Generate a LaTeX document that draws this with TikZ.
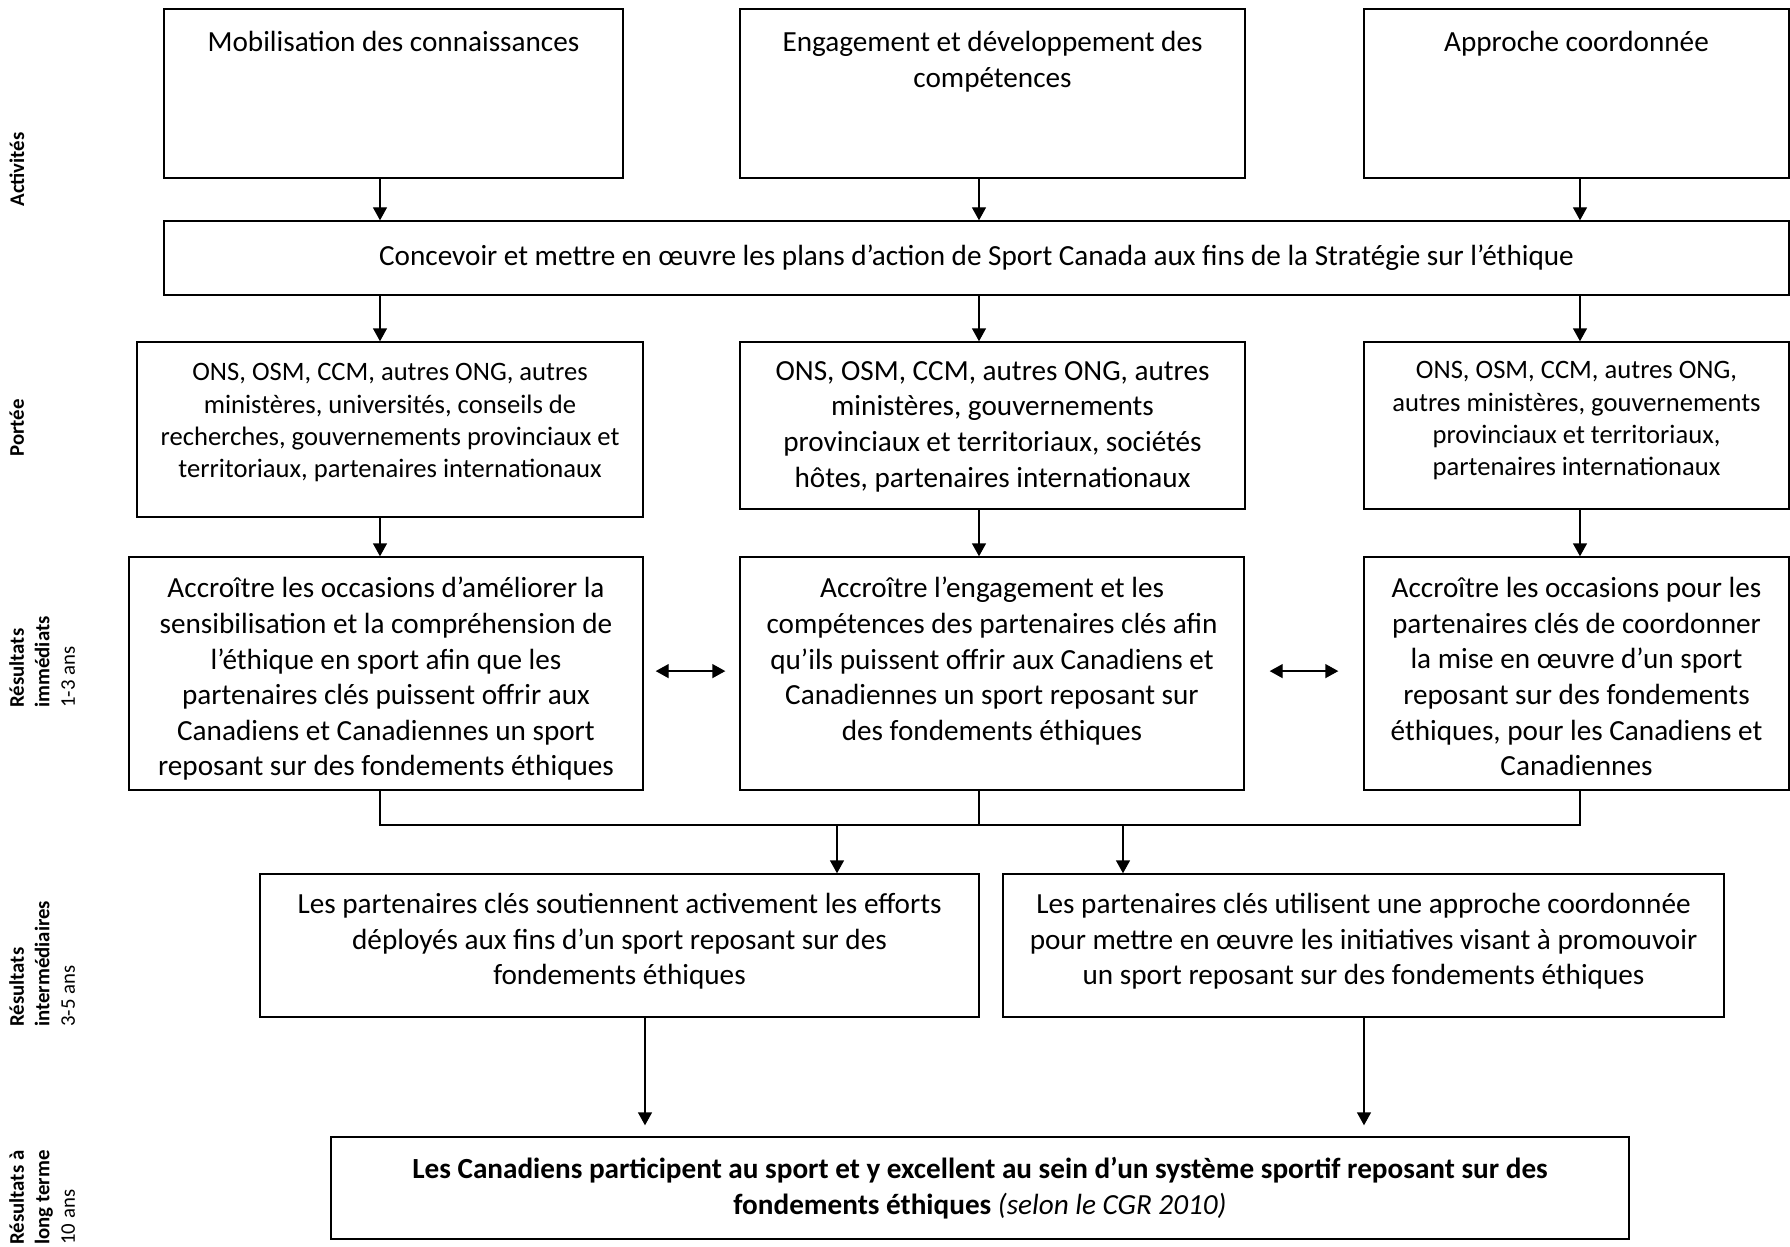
\documentclass[tikz,border=0pt]{standalone}
\usepackage{fontspec}
\setmainfont{Carlito}
\usetikzlibrary{arrows.meta}

\newcommand{\grandcorps}{\fontsize{14.6}{17.8}\selectfont}
\newcommand{\petitcorps}{\fontsize{13.3}{16.2}\selectfont}
\newcommand{\corpsetiq}{\fontsize{10.4}{12.7}\selectfont}

\begin{document}
\begin{tikzpicture}[x=0.5pt,y=-0.5pt,
    boite/.style={draw,line width=0.7pt,inner sep=0pt},
    texte/.style={align=center,inner sep=0pt,font=\grandcorps,anchor=north,execute at begin node=\strut},
    petittexte/.style={texte,font=\petitcorps},
    trait/.style={line width=0.7pt},
    fleche/.style={trait,-{Triangle[length=6.5pt,width=7pt]}},
    flechedeux/.style={trait,{Triangle[length=6.5pt,width=7pt]}-{Triangle[length=6.5pt,width=7pt]}},
    rang/.style={rotate=90,anchor=north west,align=left,inner sep=0pt,font=\corpsetiq}]
\useasboundingbox (0,0) rectangle (1790,1247);

% colonnes des fleches
\coordinate (c1) at (380,0);
\coordinate (c2) at (979,0);
\coordinate (c3) at (1580,0);

% etiquettes de gauche
\node[rang] (lact) at (9,207) {\textbf{Activités}};
\node[rang] (lport) at (9,457) {\textbf{Portée}};
\node[rang] (limm) at (9,708) {\textbf{Résultats}\\\textbf{immédiats}\\1-3 ans};
\node[rang] (lint) at (9,1027) {\textbf{Résultats}\\\textbf{intermédiaires}\\3-5 ans};
\node[rang] (llong) at (9,1245) {\textbf{Résultats à}\\\textbf{long terme}\\10 ans};

% activites
\node[boite,minimum width=229.5pt,minimum height=84.5pt] (act1) at (393.5,93.5) {};
\node[boite,minimum width=252.5pt,minimum height=84.5pt] (act2) at (992.5,93.5) {};
\node[boite,minimum width=212.5pt,minimum height=84.5pt] (act3) at (1576.5,93.5) {};
\node[texte] (tact1) at (393.5,26) {Mobilisation des connaissances};
\node[texte] (tact2) at (992.5,31) {Engagement et développement des\\compétences};
\node[texte] (tact3) at (1576.5,26) {Approche coordonnée};

\node[boite,minimum width=812.5pt,minimum height=37pt,font=\grandcorps] (conc) at (976.5,258)
    {Concevoir et mettre en œuvre les plans d’action de Sport Canada aux fins de la Stratégie sur l’éthique};

\draw[fleche] (act1.south -| c1) -- (conc.north -| c1);
\draw[fleche] (act2.south -| c2) -- (conc.north -| c2);
\draw[fleche] (act3.south -| c3) -- (conc.north -| c3);

% portee
\node[boite,minimum width=253pt,minimum height=87.5pt] (port1) at (390,429.5) {};
\node[boite,minimum width=252.5pt,minimum height=83.5pt] (port2) at (992.5,425.5) {};
\node[boite,minimum width=212.5pt,minimum height=83.5pt] (port3) at (1576.5,425.5) {};
\node[petittexte] (tport1) at (390,363) {ONS, OSM, CCM, autres ONG, autres\\ministères, universités, conseils de\\recherches, gouvernements provinciaux et\\territoriaux, partenaires internationaux};
\node[texte] (tport2) at (992.5,361) {ONS, OSM, CCM, autres ONG, autres\\ministères, gouvernements\\provinciaux et territoriaux, sociétés\\hôtes, partenaires internationaux};
\node[petittexte] (tport3) at (1576.5,361) {ONS, OSM, CCM, autres ONG,\\autres ministères, gouvernements\\provinciaux et territoriaux,\\partenaires internationaux};

\draw[fleche] (conc.south -| c1) -- (port1.north -| c1);
\draw[fleche] (conc.south -| c2) -- (port2.north -| c2);
\draw[fleche] (conc.south -| c3) -- (port3.north -| c3);

% resultats immediats
\node[boite,minimum width=257pt,minimum height=116.5pt] (res1) at (386,673.5) {};
\node[boite,minimum width=252pt,minimum height=116.5pt] (res2) at (992,673.5) {};
\node[boite,minimum width=212.5pt,minimum height=116.5pt] (res3) at (1576.5,673.5) {};
\node[texte] (tres1) at (386,577) {Accroître les occasions d’améliorer la\\sensibilisation et la compréhension de\\l’éthique en sport afin que les\\partenaires clés puissent offrir aux\\Canadiens et Canadiennes un sport\\reposant sur des fondements éthiques};
\node[texte] (tres2) at (992,577) {Accroître l’engagement et les\\compétences des partenaires clés afin\\qu’ils puissent offrir aux Canadiens et\\Canadiennes un sport reposant sur\\des fondements éthiques};
\node[texte] (tres3) at (1576.5,577) {Accroître les occasions pour les\\partenaires clés de coordonner\\la mise en œuvre d’un sport\\reposant sur des fondements\\éthiques, pour les Canadiens et\\Canadiennes};

\draw[fleche] (port1.south -| c1) -- (res1.north -| c1);
\draw[fleche] (port2.south -| c2) -- (res2.north -| c2);
\draw[fleche] (port3.south -| c3) -- (res3.north -| c3);

\draw[flechedeux] ([xshift=6pt,yshift=1.2pt]res1.east) -- ([xshift=-7pt,yshift=1.2pt]res2.west);
\draw[flechedeux] ([xshift=12.5pt,yshift=1.2pt]res2.east) -- ([xshift=-12.5pt,yshift=1.2pt]res3.west);

% jonction
\coordinate (j1) at (380,825);
\coordinate (j3) at (1580,825);
\coordinate (d1) at (837,825);
\coordinate (d2) at (1123,825);
\draw[trait] (res1.south -| c1) -- (j1) -- (j3) -- (res3.south -| c3);
\draw[trait] (res2.south -| c2) -- (j1 -| c2);

% resultats intermediaires
\node[boite,minimum width=359.5pt,minimum height=71.5pt] (int1) at (619.5,945.5) {};
\node[boite,minimum width=360.5pt,minimum height=71.5pt] (int2) at (1363.5,945.5) {};
\node[texte] (tint1) at (619.5,893) {Les partenaires clés soutiennent activement les efforts\\déployés aux fins d’un sport reposant sur des\\fondements éthiques};
\node[texte] (tint2) at (1363.5,893) {Les partenaires clés utilisent une approche coordonnée\\pour mettre en œuvre les initiatives visant à promouvoir\\un sport reposant sur des fondements éthiques};

\draw[fleche] (d1) -- (int1.north -| d1);
\draw[fleche] (d2) -- (int2.north -| d2);

% resultat a long terme
\coordinate (b1) at (645,0);
\coordinate (b2) at (1364,0);
\node[boite,minimum width=649pt,minimum height=51pt] (long) at (980,1188) {};
\node[texte] (tlong) at (980,1157) {\textbf{Les Canadiens participent au sport et y excellent au sein d’un système sportif reposant sur des}\\\textbf{fondements éthiques} \textit{(selon le CGR 2010)}};

\draw[fleche,shorten >=5.5pt] (int1.south -| b1) -- (long.north -| b1);
\draw[fleche,shorten >=5.5pt] (int2.south -| b2) -- (long.north -| b2);
\end{tikzpicture}
\end{document}
